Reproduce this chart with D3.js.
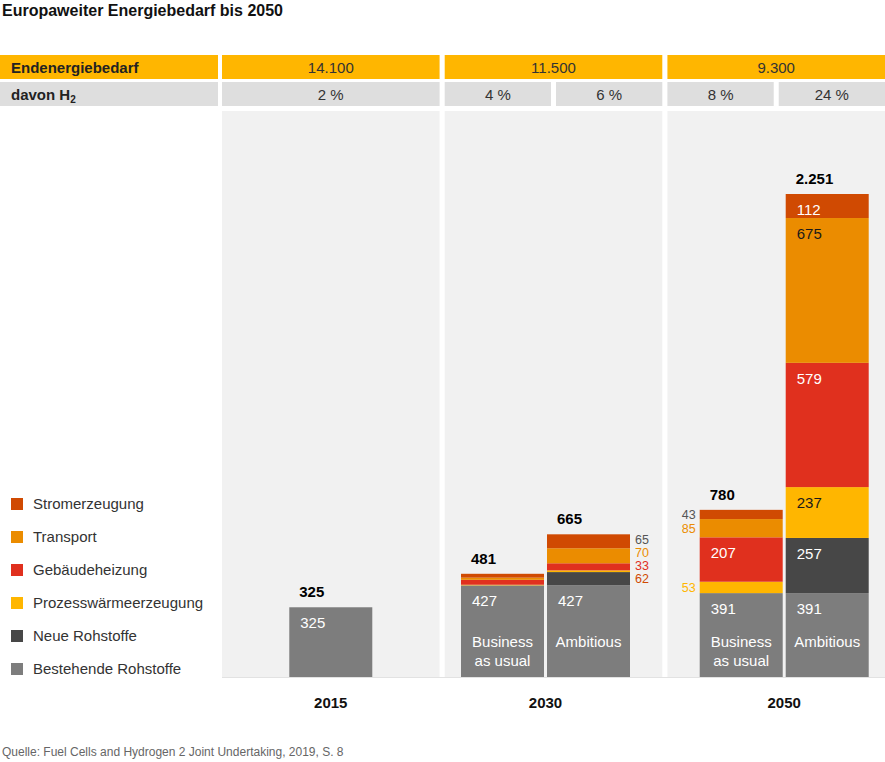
<!DOCTYPE html>
<html>
<head>
<meta charset="utf-8">
<script src="https://cdn.jsdelivr.net/npm/d3@7"></script>
<style>
  body { margin: 0; background: #fff; }
  svg { font-family: "Liberation Sans", Arial, sans-serif; }
</style>
</head>
<body>
<div class="container"></div>
<script>
// --- data ---
const years = ["2015", "2030", "2050"];
const endenergie = [14100, 11500, 9300];
const h2Share = [["2 %"], ["4 %", "6 %"], ["8 %", "24 %"]];

const categories = ["Bestehende Rohstoffe", "Neue Rohstoffe", "Prozesswärmeerzeugung",
  "Gebäudeheizung", "Transport", "Stromerzeugung"];

const barYear = ["2015", "2030", "2030", "2050", "2050"];
const barScenario = ["", "Business\nas usual", "Ambitious", "Business\nas usual", "Ambitious"];
const bestehende = [325, 427, 427, 391, 391];
const neue = [0, 0, 62, 0, 257];
const prozess = [0, 3, 8, 53, 237];
const gebaeude = [0, 23, 33, 207, 579];
const transport = [0, 10, 70, 85, 675];
const strom = [0, 18, 65, 43, 112];
const totals = [325, 481, 665, 780, 2251];

// --- styling ---
const width = 885, height = 762;
const color = d3.scaleOrdinal()
  .domain(categories)
  .range(["#7d7d7d", "#474747", "#ffb600", "#e0301e", "#eb8c00", "#d04a02"]);
const sideColor = d3.scaleOrdinal()
  .domain(categories)
  .range(["#555", "#d04a02", "#ffb600", "#e0301e", "#eb8c00", "#555"]);
const darkText = new Set(["Transport", "Prozesswärmeerzeugung"]);
const pairShift = { "2030": -8, "2050": 8 };
const barW = 83, barGap = 3;

const de = d3.formatLocale({ decimal: ",", thousands: ".", grouping: [3], currency: ["", " €"] });
const fmt = de.format(",d");

const svg = d3.select(".container")
  .append("svg")
  .attr("width", width)
  .attr("height", height);

// title
svg.append("text")
  .attr("x", 2).attr("y", 16)
  .style("font-size", "16px").style("font-weight", "bold")
  .attr("fill", "#111")
  .text("Europaweiter Energiebedarf bis 2050");

const x = d3.scaleBand().domain(years).range([222, 885]).paddingInner(0.023);
const y = d3.scaleLinear().domain([0, 2251]).range([677, 194]);

// header rows
const row1 = { y: 55, h: 24 }, row2 = { y: 82, h: 24 };
svg.append("rect").attr("x", 0).attr("y", row1.y).attr("width", 218).attr("height", row1.h).attr("fill", "#ffb600");
svg.append("rect").attr("x", 0).attr("y", row2.y).attr("width", 218).attr("height", row2.h).attr("fill", "#dedede");
svg.append("text").attr("x", 11).attr("y", row1.y + 18)
  .style("font-size", "15px").style("font-weight", "bold").attr("fill", "#222")
  .text("Endenergiebedarf");
const h2 = svg.append("text").attr("x", 11).attr("y", row2.y + 18)
  .style("font-size", "15px").style("font-weight", "bold").attr("fill", "#222");
h2.append("tspan").text("davon H");
h2.append("tspan").attr("dy", 3).style("font-size", "10px").text("2");

years.forEach((yr, i) => {
  svg.append("rect").attr("x", x(yr)).attr("y", row1.y).attr("width", x.bandwidth()).attr("height", row1.h).attr("fill", "#ffb600");
  svg.append("text").attr("x", x(yr) + x.bandwidth() / 2).attr("y", row1.y + 18)
    .attr("text-anchor", "middle").style("font-size", "15px").attr("fill", "#333")
    .text(fmt(endenergie[i]));

  const n = h2Share[i].length;
  const sub = d3.scaleBand().domain(d3.range(n))
    .range([x(yr), x(yr) + x.bandwidth()]).paddingInner(n > 1 ? 0.045 : 0);
  h2Share[i].forEach((s, j) => {
    svg.append("rect").attr("x", sub(j)).attr("y", row2.y).attr("width", sub.bandwidth()).attr("height", row2.h).attr("fill", "#dedede");
    svg.append("text").attr("x", sub(j) + sub.bandwidth() / 2).attr("y", row2.y + 18)
      .attr("text-anchor", "middle").style("font-size", "15px").attr("fill", "#333")
      .text(s);
  });

  // panel background
  svg.append("rect").attr("x", x(yr)).attr("y", 111)
    .attr("width", x.bandwidth()).attr("height", y(0) - 111).attr("fill", "#f1f1f1");
});

svg.append("line").attr("x1", 222).attr("x2", 885).attr("y1", y(0) + 0.5).attr("y2", y(0) + 0.5)
  .attr("stroke", "#e2e2e2");

// bars
const bars = barYear.map((yr, i) => {
  const values = [bestehende[i], neue[i], prozess[i], gebaeude[i], transport[i], strom[i]];
  const group = barYear.map((d, k) => k).filter(k => barYear[k] === yr);
  const j = group.indexOf(i);
  const gw = group.length * barW + (group.length - 1) * barGap;
  const cx = x(yr) + x.bandwidth() / 2 + (pairShift[yr] || 0);
  const x0 = cx - gw / 2 + j * (barW + barGap);
  let acc = 0;
  const segs = values.map((v, k) => {
    const s = { cat: categories[k], value: v, y0: acc, y1: acc + v };
    acc += v;
    return s;
  });
  return { i, yr, j, n: group.length, x0, cx, segs, total: totals[i], scenario: barScenario[i] };
});

const barG = svg.append("g")
  .selectAll("g")
  .data(bars)
  .join("g");

barG.selectAll("rect")
  .data(d => d.segs.filter(s => s.value > 0).map(s => ({ ...s, bar: d })))
  .join("rect")
  .attr("x", d => d.bar.x0)
  .attr("width", barW)
  .attr("y", d => y(d.y1))
  .attr("height", d => y(d.y0) - y(d.y1))
  .attr("fill", d => color(d.cat));

// labels inside / beside segments
barG.each(function (b) {
  const g = d3.select(this);
  const side = [];
  b.segs.forEach(s => {
    const h = y(s.y0) - y(s.y1);
    if (s.value <= 0) return;
    if (h >= 20) {
      g.append("text")
        .attr("x", b.x0 + 11).attr("y", y(s.y1) + 21)
        .style("font-size", "15px")
        .attr("fill", darkText.has(s.cat) ? "#1a1a1a" : "#fff")
        .text(fmt(s.value));
    } else if (s.value >= 30) {
      side.push({ s, ly: (y(s.y0) + y(s.y1)) / 2 + 4.5 });
    }
  });
  // stack side labels upwards so they do not collide
  let prev = Infinity;
  side.forEach(d => {
    d.ly = Math.min(d.ly, prev - 13);
    prev = d.ly;
  });
  const left = b.n > 1 && b.j === 0;
  side.forEach(d => {
    g.append("text")
      .attr("x", left ? b.x0 - 4 : b.x0 + barW + 5)
      .attr("y", d.ly)
      .attr("text-anchor", left ? "end" : "start")
      .style("font-size", "12.5px")
      .attr("fill", sideColor(d.s.cat))
      .text(fmt(d.s.value));
  });

  // total
  g.append("text")
    .attr("x", b.x0 + 10).attr("y", y(b.segs[5].y1) - 10)
    .style("font-size", "15px").style("font-weight", "bold").attr("fill", "#000")
    .text(fmt(b.total));

  // scenario name
  if (b.scenario) {
    const t = g.append("text")
      .attr("text-anchor", "middle")
      .style("font-size", "15px").attr("fill", "#fff");
    b.scenario.split("\n").forEach((line, k) => {
      t.append("tspan").attr("x", b.x0 + barW / 2).attr("y", 647 + k * 19).text(line);
    });
  }
});

// year labels centred under their bars
years.forEach(yr => {
  const g = bars.filter(b => b.yr === yr);
  const cx = (g[0].x0 + g[g.length - 1].x0 + barW) / 2;
  svg.append("text").attr("x", cx).attr("y", 708)
    .attr("text-anchor", "middle")
    .style("font-size", "15px").style("font-weight", "bold").attr("fill", "#111")
    .text(yr);
});

// legend
const legend = svg.append("g")
  .selectAll("g")
  .data(categories.slice().reverse())
  .join("g")
  .attr("transform", (d, i) => `translate(11, ${498 + i * 33})`);
legend.append("rect").attr("width", 12).attr("height", 12).attr("fill", d => color(d));
legend.append("text").attr("x", 22).attr("y", 11)
  .style("font-size", "15px").attr("fill", "#333").text(d => d);

// source
svg.append("text").attr("x", 2).attr("y", 756)
  .style("font-size", "12px").attr("fill", "#666")
  .text("Quelle: Fuel Cells and Hydrogen 2 Joint Undertaking, 2019, S. 8");
</script>
</body>
</html>
